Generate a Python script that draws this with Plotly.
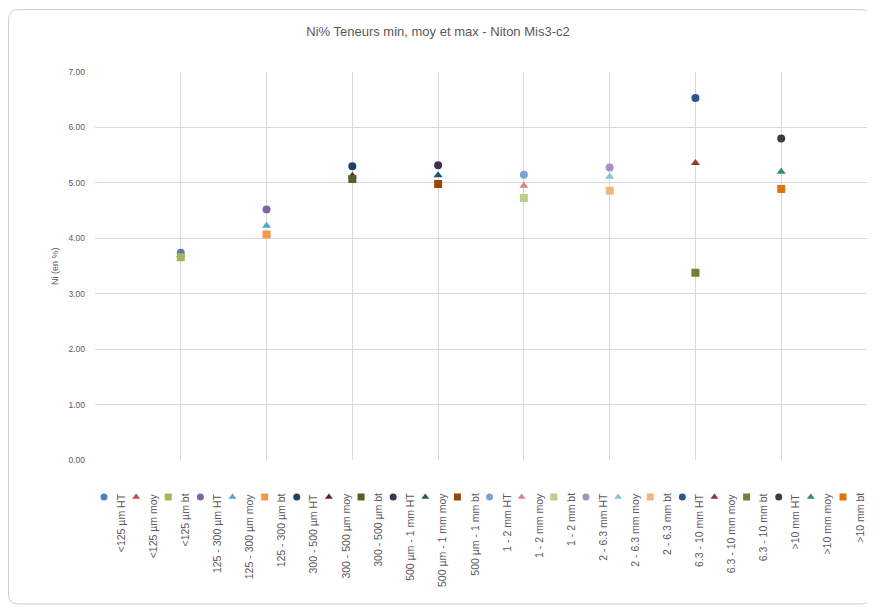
import plotly.graph_objects as go

# ---------------- data ----------------
classes = ["<125 µm", "125 - 300 µm", "300 - 500 µm", "500 µm - 1 mm",
           "1 - 2 mm", "2 - 6.3 mm", "6.3 - 10 mm", ">10 mm"]
stats = ["HT", "moy", "bt"]
ni_ht = [3.74, 4.52, 5.30, 5.32, 5.15, 5.28, 6.53, 5.80]
ni_moy = [3.70, 4.23, 5.13, 5.14, 4.95, 5.11, 5.36, 5.20]
ni_bt = [3.66, 4.07, 5.07, 4.98, 4.73, 4.86, 3.38, 4.89]
y_ticks = [0, 1, 2, 3, 4, 5, 6, 7]

# ---------------- styles ----------------
colors = [
    "#4F81BD", "#C0504D", "#9BBB59", "#8064A2", "#4BACC6", "#F79646",
    "#243F60", "#632523", "#4F6228", "#3F3151", "#205867", "#974806",
    "#7FA2CE", "#D48A88", "#B9CF8C", "#A692C0", "#82C6D8", "#F9B47C",
    "#2F568A", "#953735", "#6A8535", "#3A3A44", "#2E8A7A", "#E0750F",
]
symbols = {"HT": "circle", "moy": "triangle-up", "bt": "square"}
values = {"HT": ni_ht, "moy": ni_moy, "bt": ni_bt}
grey_txt = "#595959"
grid = "#D9D9D9"
FONT = "Liberation Sans, Arial, sans-serif"

fig = go.Figure()

names, cols, syms = [], [], []
k = 0
for ci, cl in enumerate(classes):
    for st in stats:
        name = f"{cl} {st}"
        names.append(name)
        cols.append(colors[k])
        syms.append(symbols[st])
        fig.add_trace(go.Scatter(
            x=[ci + 1], y=[values[st][ci]], mode="markers", name=name,
            marker=dict(symbol=symbols[st], size=8,
                        color=colors[k], line=dict(width=0)),
            xaxis="x", yaxis="y", showlegend=False,
            hovertemplate=name + ": %{y:.2f}<extra></extra>"))
        k += 1

# ---------------- geometry (page has an 8px body margin) ----------------
OFF = 8
W, H = 875 - OFF, 614 - OFF
L, R, T, B = 95 - OFF, 8, 72 - OFF, 8
pw, ph = W - L - R, H - T - B


def px2paper_x(px):
    return (px - OFF - L) / pw


def py2paper_y(py):
    return (H - B - (py - OFF)) / ph


main_bottom = py2paper_y(464)
leg_top = main_bottom - 0.005
leg_h_px = leg_top * ph


def py2leg(py):
    # reference pixel y -> yaxis2 value (range 0..1 over legend domain)
    return (H - B - (py - OFF)) / leg_h_px


# ---------------- custom rotated legend ----------------
idx = list(range(len(names)))
x2_start = -0.28
x2_end = x2_start + pw / 32.13
fig.add_trace(go.Scatter(
    x=idx, y=[py2leg(501)] * len(idx), mode="markers",
    marker=dict(symbol=syms, color=cols, size=7, line=dict(width=0)),
    xaxis="x2", yaxis="y2", showlegend=False, hoverinfo="skip"))

annotations = []
for i, nm in enumerate(names):
    annotations.append(dict(
        x=i + 0.27, y=py2leg(495), xref="x2", yref="y2", text=nm, textangle=-90,
        showarrow=False, xanchor="left", yanchor="top",
        font=dict(family=FONT, size=10.5, color=grey_txt)))

# ---------------- border ----------------
x0, x1 = px2paper_x(8.5), px2paper_x(871)
y0, y1 = py2paper_y(609), py2paper_y(9)
rx = 10 / pw
ry = 10 / ph
path = (f"M {x0+rx},{y1} L {x1-rx},{y1} Q {x1},{y1} {x1},{y1-ry} "
        f"L {x1},{y0+ry} Q {x1},{y0} {x1-rx},{y0} L {x0+rx},{y0} "
        f"Q {x0},{y0} {x0},{y0+ry} L {x0},{y1-ry} Q {x0},{y1} {x0+rx},{y1} Z")

fig.update_layout(
    width=W, height=H,
    margin=dict(l=L, r=R, t=T, b=B),
    paper_bgcolor="white", plot_bgcolor="white",
    title=dict(text="Ni% Teneurs min, moy et max - Niton Mis3-c2",
               x=(438 - OFF) / W, xanchor="center", y=1 - (31 - OFF) / H, yanchor="middle",
               yref="container",
               font=dict(family=FONT, size=13, color=grey_txt)),
    xaxis=dict(range=[0, 9], dtick=1, tick0=0, showticklabels=False,
               showgrid=True, gridcolor=grid, gridwidth=1, zeroline=False,
               showline=False, fixedrange=True, anchor="y"),
    yaxis=dict(domain=[main_bottom, 1], range=[0, 7], tickvals=y_ticks,
               ticktext=[f"{v:.2f}" for v in y_ticks],
               showgrid=True, gridcolor=grid, gridwidth=1, zeroline=False,
               showline=False, ticks="", ticklabelstandoff=9,
               tickfont=dict(family=FONT, size=8.5, color=grey_txt),
               title=dict(text="Ni (en %)", standoff=8,
                          font=dict(family=FONT, size=9, color=grey_txt)),
               anchor="x"),
    xaxis2=dict(range=[x2_start, x2_end], visible=False, anchor="y2", domain=[0, 1]),
    yaxis2=dict(range=[0, 1], visible=False, anchor="x2", domain=[0, leg_top]),
    annotations=annotations,
    shapes=[dict(type="path", path=path, xref="paper", yref="paper",
                 line=dict(color="#D0D0D0", width=1), layer="below")],
    showlegend=False,
)

fig.write_html("out.html")
